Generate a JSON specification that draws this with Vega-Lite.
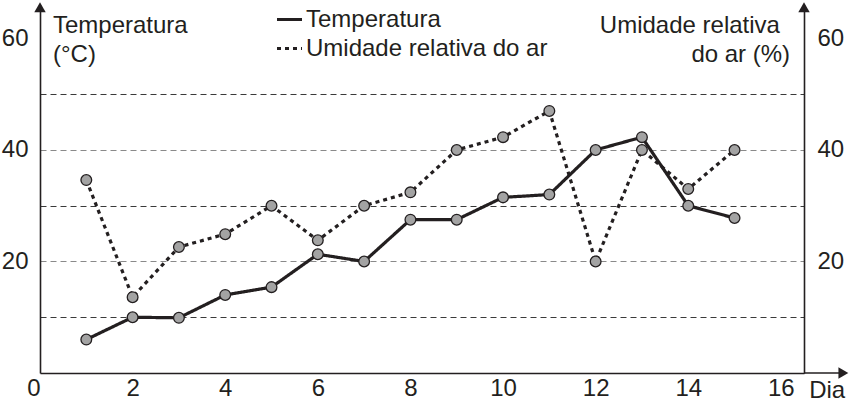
{
  "$schema": "https://vega.github.io/schema/vega-lite/v6.json",
  "width": 764,
  "height": 368,
  "autosize": "none",
  "padding": {"left": 40, "top": 5, "right": 48, "bottom": 37},
  "background": "white",
  "config": {
    "view": {"stroke": null},
    "font": "Liberation Sans",
    "text": {"fontSize": 24, "color": "#231f20"}
  },
  "data": {
    "values": [
      {"dia": 1, "serie": "Temperatura", "valor": 6},
      {"dia": 2, "serie": "Temperatura", "valor": 10},
      {"dia": 3, "serie": "Temperatura", "valor": 9.9},
      {"dia": 4, "serie": "Temperatura", "valor": 14},
      {"dia": 5, "serie": "Temperatura", "valor": 15.4},
      {"dia": 6, "serie": "Temperatura", "valor": 21.3},
      {"dia": 7, "serie": "Temperatura", "valor": 20},
      {"dia": 8, "serie": "Temperatura", "valor": 27.5},
      {"dia": 9, "serie": "Temperatura", "valor": 27.5},
      {"dia": 10, "serie": "Temperatura", "valor": 31.5},
      {"dia": 11, "serie": "Temperatura", "valor": 32},
      {"dia": 12, "serie": "Temperatura", "valor": 40},
      {"dia": 13, "serie": "Temperatura", "valor": 42.3},
      {"dia": 14, "serie": "Temperatura", "valor": 30},
      {"dia": 15, "serie": "Temperatura", "valor": 27.8},
      {"dia": 1, "serie": "Umidade relativa do ar", "valor": 34.6},
      {"dia": 2, "serie": "Umidade relativa do ar", "valor": 13.6},
      {"dia": 3, "serie": "Umidade relativa do ar", "valor": 22.6},
      {"dia": 4, "serie": "Umidade relativa do ar", "valor": 24.9},
      {"dia": 5, "serie": "Umidade relativa do ar", "valor": 30},
      {"dia": 6, "serie": "Umidade relativa do ar", "valor": 23.8},
      {"dia": 7, "serie": "Umidade relativa do ar", "valor": 30},
      {"dia": 8, "serie": "Umidade relativa do ar", "valor": 32.4},
      {"dia": 9, "serie": "Umidade relativa do ar", "valor": 40},
      {"dia": 10, "serie": "Umidade relativa do ar", "valor": 42.3},
      {"dia": 11, "serie": "Umidade relativa do ar", "valor": 47},
      {"dia": 12, "serie": "Umidade relativa do ar", "valor": 20},
      {"dia": 13, "serie": "Umidade relativa do ar", "valor": 40},
      {"dia": 14, "serie": "Umidade relativa do ar", "valor": 33},
      {"dia": 15, "serie": "Umidade relativa do ar", "valor": 40}
    ]
  },
  "resolve": {"axis": {"y": "independent"}},
  "layer": [
    {
      "mark": {"type": "line", "color": "#231f20", "strokeWidth": 3.2},
      "encoding": {
        "x": {
          "field": "dia", "type": "quantitative", "title": null,
          "scale": {"domain": [0, 16.5], "nice": false, "zero": false},
          "axis": {
            "values": [0, 2, 4, 6, 8, 10, 12, 14, 16],
            "ticks": false, "tickSize": 0, "grid": false,
            "domainColor": "#231f20", "domainWidth": 1.6,
            "labelFontSize": 24, "labelColor": "#231f20", "labelPadding": 3,
            "labelAlign": {"condition": {"test": "datum.value === 0", "value": "right"}, "value": "center"},
            "labelFlush": false, "labelOverlap": false
          }
        },
        "y": {
          "field": "valor", "type": "quantitative", "title": null,
          "scale": {"domain": [0, 66], "nice": false, "zero": false},
          "axis": {
            "orient": "left",
            "values": [10, 20, 30, 40, 50, 60],
            "labelExpr": "datum.value % 20 === 0 ? datum.label : ''",
            "ticks": false, "tickSize": 0,
            "grid": true,
            "gridColor": {"condition": {"test": "datum.value % 20 === 0", "value": "#8a8a8a"}, "value": "#3a3a3a"},
            "gridOpacity": {"condition": {"test": "datum.value === 60", "value": 0}, "value": 1},
            "gridDash": [6, 4], "gridWidth": 1,
            "domainColor": "#231f20", "domainWidth": 1.6,
            "labelFontSize": 24, "labelColor": "#231f20", "labelPadding": 12,
            "labelFlush": false, "labelOverlap": false
          }
        },
        "strokeDash": {
          "field": "serie", "type": "nominal",
          "scale": {"domain": ["Temperatura", "Umidade relativa do ar"], "range": [[1, 0], [4, 4]]},
          "legend": {
            "orient": "none", "legendX": 235, "legendY": 0, "title": null,
            "symbolType": "stroke", "symbolSize": 625, "symbolStrokeWidth": 3.2,
            "symbolStrokeColor": "#231f20",
            "labelFontSize": 24, "labelColor": "#231f20", "labelOffset": 2,
            "rowPadding": 2, "padding": 0, "labelLimit": 400
          }
        }
      }
    },
    {
      "mark": {"type": "circle", "fill": "#a3a3a3", "stroke": "#231f20", "strokeWidth": 1.3, "size": 115, "opacity": 1},
      "encoding": {
        "x": {"field": "dia", "type": "quantitative", "title": null, "scale": {"domain": [0, 16.5], "nice": false, "zero": false}},
        "y": {
          "field": "valor", "type": "quantitative", "title": null,
          "scale": {"domain": [0, 66], "nice": false, "zero": false},
          "axis": {
            "orient": "right",
            "values": [20, 40, 60],
            "ticks": false, "tickSize": 0, "grid": false,
            "domainColor": "#231f20", "domainWidth": 1.6,
            "labelFontSize": 24, "labelColor": "#231f20", "labelPadding": 13,
            "labelFlush": false, "labelOverlap": false
          }
        }
      }
    },
    {
      "data": {"values": [{}]},
      "mark": {"type": "rule", "color": "#231f20", "strokeWidth": 1.6},
      "encoding": {
        "x": {"datum": 16.5, "scale": {"domain": [0, 16.5], "nice": false, "zero": false}},
        "x2": {"datum": 17.3},
        "y": {"datum": 0, "scale": {"domain": [0, 66], "nice": false, "zero": false}, "axis": null}
      }
    },
    {
      "data": {"values": [{}]},
      "mark": {"type": "point", "shape": "triangle-right", "filled": true, "color": "#231f20", "size": 130, "opacity": 1},
      "encoding": {
        "x": {"datum": 17.35, "scale": {"domain": [0, 16.5], "nice": false, "zero": false}},
        "y": {"datum": 0, "scale": {"domain": [0, 66], "nice": false, "zero": false}, "axis": null}
      }
    },
    {
      "data": {"values": [{}]},
      "mark": {"type": "point", "shape": "triangle-up", "filled": true, "color": "#231f20", "size": 130, "opacity": 1},
      "encoding": {
        "x": {"datum": 0, "scale": {"domain": [0, 16.5], "nice": false, "zero": false}},
        "y": {"datum": 65.6, "scale": {"domain": [0, 66], "nice": false, "zero": false}, "axis": null}
      }
    },
    {
      "data": {"values": [{}]},
      "mark": {"type": "point", "shape": "triangle-up", "filled": true, "color": "#231f20", "size": 130, "opacity": 1},
      "encoding": {
        "x": {"datum": 16.5, "scale": {"domain": [0, 16.5], "nice": false, "zero": false}},
        "y": {"datum": 65.6, "scale": {"domain": [0, 66], "nice": false, "zero": false}, "axis": null}
      }
    },
    {
      "data": {"values": [{}]},
      "mark": {"type": "text", "text": "Dia", "align": "center", "baseline": "alphabetic", "dy": 25, "fontSize": 24, "color": "#231f20"},
      "encoding": {
        "x": {"datum": 17.0, "scale": {"domain": [0, 16.5], "nice": false, "zero": false}},
        "y": {"datum": 0, "scale": {"domain": [0, 66], "nice": false, "zero": false}, "axis": null}
      }
    },
    {
      "data": {"values": [{}]},
      "mark": {"type": "text", "text": ["Temperatura", "(°C)"], "align": "left", "baseline": "alphabetic", "lineHeight": 29, "fontSize": 24, "color": "#231f20"},
      "encoding": {
        "x": {"datum": 0.28, "scale": {"domain": [0, 16.5], "nice": false, "zero": false}},
        "y": {"datum": 60.9, "scale": {"domain": [0, 66], "nice": false, "zero": false}, "axis": null}
      }
    },
    {
      "data": {"values": [{}]},
      "mark": {"type": "text", "text": "Umidade relativa", "align": "right", "baseline": "alphabetic", "fontSize": 24, "color": "#231f20"},
      "encoding": {
        "x": {"datum": 15.98, "scale": {"domain": [0, 16.5], "nice": false, "zero": false}},
        "y": {"datum": 60.9, "scale": {"domain": [0, 66], "nice": false, "zero": false}, "axis": null}
      }
    },
    {
      "data": {"values": [{}]},
      "mark": {"type": "text", "text": "do ar (%)", "align": "right", "baseline": "alphabetic", "fontSize": 24, "color": "#231f20"},
      "encoding": {
        "x": {"datum": 16.2, "scale": {"domain": [0, 16.5], "nice": false, "zero": false}},
        "y": {"datum": 55.7, "scale": {"domain": [0, 66], "nice": false, "zero": false}, "axis": null}
      }
    }
  ]
}
